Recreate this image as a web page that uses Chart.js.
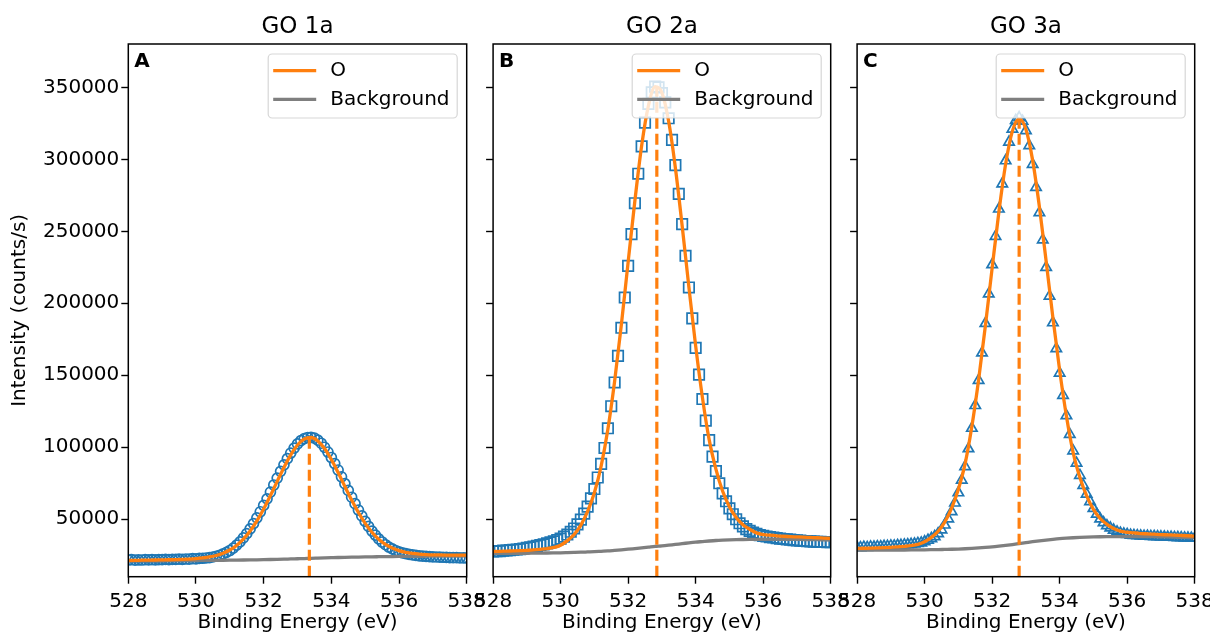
<!DOCTYPE html>
<html>
<head>
<meta charset="utf-8">
<title>O 1s spectra - GO 1a / 2a / 3a</title>
<script src="https://cdn.jsdelivr.net/npm/chart.js@4.4.1/dist/chart.umd.min.js"></script>
<style>
  html, body { margin: 0; padding: 0; background: #fff; width: 1210px; height: 638px; overflow: hidden; }
  canvas { position: absolute; top: 0; }
</style>
</head>
<body>
<canvas id="panelA" width="500" height="638" style="left:0px"></canvas>
<canvas id="panelB" width="400" height="638" style="left:468px"></canvas>
<canvas id="panelC" width="420" height="638" style="left:832px"></canvas>
<script>
// ---- data -------------------------------------------------------------
const panelTitles = ['GO 1a', 'GO 2a', 'GO 3a'];
const panelLetters = ['A', 'B', 'C'];
const energyTicks = [528, 530, 532, 534, 536, 538];
const intensityTicks = [50000, 100000, 150000, 200000, 250000, 300000, 350000];

// measured points (eV)
const energy = [
  528.0, 528.1, 528.2, 528.3, 528.4, 528.5, 528.6, 528.7, 528.8, 528.9,
  529.0, 529.1, 529.2, 529.3, 529.4, 529.5, 529.6, 529.7, 529.8, 529.9,
  530.0, 530.1, 530.2, 530.3, 530.4, 530.5, 530.6, 530.7, 530.8, 530.9,
  531.0, 531.1, 531.2, 531.3, 531.4, 531.5, 531.6, 531.7, 531.8, 531.9,
  532.0, 532.1, 532.2, 532.3, 532.4, 532.5, 532.6, 532.7, 532.8, 532.9,
  533.0, 533.1, 533.2, 533.3, 533.4, 533.5, 533.6, 533.7, 533.8, 533.9,
  534.0, 534.1, 534.2, 534.3, 534.4, 534.5, 534.6, 534.7, 534.8, 534.9,
  535.0, 535.1, 535.2, 535.3, 535.4, 535.5, 535.6, 535.7, 535.8, 535.9,
  536.0, 536.1, 536.2, 536.3, 536.4, 536.5, 536.6, 536.7, 536.8, 536.9,
  537.0, 537.1, 537.2, 537.3, 537.4, 537.5, 537.6, 537.7, 537.8, 537.9, 538.0
];

// fitted envelope / background grid (eV)
const fitEnergy = [
  528.0, 528.2, 528.4, 528.6, 528.8, 529.0, 529.2, 529.4, 529.6, 529.8,
  530.0, 530.2, 530.4, 530.6, 530.8, 531.0, 531.2, 531.4, 531.6, 531.8,
  532.0, 532.2, 532.4, 532.6, 532.8, 533.0, 533.2, 533.4, 533.6, 533.8,
  534.0, 534.2, 534.4, 534.6, 534.8, 535.0, 535.2, 535.4, 535.6, 535.8,
  536.0, 536.2, 536.4, 536.6, 536.8, 537.0, 537.2, 537.4, 537.6, 537.8, 538.0
];

// GO 1a
const go1aCounts = [
  21700, 21900, 21600, 21800, 21700, 21900, 21800, 21900, 21800, 22000,
  21900, 22100, 22000, 22200, 22100, 22300, 22200, 22400, 22300, 22600,
  22500, 22800, 22900, 23100, 23400, 23800, 24300, 25000, 25900, 27000,
  28300, 30000, 32000, 34300, 37000, 40000, 43300, 47000, 51000, 55200,
  59600, 64200, 68900, 73800, 78600, 83300, 87800, 92100, 96000, 99400,
  102300, 104600, 106000, 106800, 106900, 106300, 104900, 102800, 100000, 96700,
  92900, 88700, 84200, 79500, 74700, 70000, 65300, 60800, 56400, 52300,
  48500, 45000, 41800, 39000, 36400, 34200, 32300, 30700, 29400, 28300,
  27400, 26700, 26100, 25600, 25200, 24900, 24600, 24400, 24200, 24100,
  23900, 23800, 23700, 23600, 23500, 23400, 23300, 23300, 23200, 23200, 23100
];
const go1aFit = [
  21400, 21460, 21545, 21615, 21690, 21785, 21880, 22005, 22155, 22365,
  22660, 23115, 23785, 24825, 26365, 28630, 31820, 36145, 41795, 48805,
  57120, 66440, 76305, 86010, 94725, 101580, 105760, 106770, 104420, 99100,
  91490, 82440, 72800, 63360, 54690, 47175, 41000, 36155, 32540, 29955,
  28175, 26995, 26240, 25770, 25490, 25305, 25205, 25145, 25100, 25050, 25020
];
const go1aBackground = [
  21000, 21035, 21075, 21110, 21145, 21180, 21215, 21250, 21290, 21325,
  21360, 21400, 21440, 21480, 21525, 21575, 21630, 21690, 21760, 21840,
  21930, 22030, 22150, 22280, 22420, 22560, 22700, 22870, 23010, 23150,
  23290, 23430, 23550, 23660, 23760, 23850, 23925, 23990, 24050, 24110,
  24160, 24205, 24250, 24290, 24330, 24365, 24400, 24430, 24460, 24480, 24500
];

// GO 2a
const go2aCounts = [
  27600, 27900, 27800, 28200, 28300, 28600, 28800, 29000, 29300, 29700,
  30100, 30500, 31000, 31500, 32000, 32600, 33200, 33900, 34700, 35600,
  36600, 37900, 39400, 41300, 43600, 46400, 49800, 53900, 58800, 64500,
  71000, 79000, 88500, 99500, 113200, 128500, 145000, 163500, 183000, 204000,
  226000, 248000, 269500, 290000, 309000, 325500, 338500, 346500, 350500, 350000,
  346000, 339500, 328500, 313500, 296000, 276000, 255000, 233000, 211000, 189500,
  169000, 150500, 133500, 118500, 105000, 93500, 83500, 75000, 68000, 62500,
  57500, 53500, 50000, 47200, 45000, 43200, 41900, 40700, 39800, 39000,
  38400, 38000, 37600, 37300, 36900, 36600, 36300, 36000, 35800, 35500,
  35300, 35100, 34900, 34800, 34600, 34500, 34400, 34300, 34200, 34100, 34000
];
const go2aFit = [
  27610, 27730, 27880, 28020, 28200, 28420, 28690, 29120, 29620, 30430,
  31980, 35140, 39430, 45980, 55460, 68460, 86950, 112480, 145840, 185280,
  228560, 271250, 309460, 337160, 350460, 346380, 326400, 293990, 253850, 211200,
  170420, 134660, 105300, 84850, 69420, 58740, 51210, 46190, 43070, 40560,
  39400, 38920, 38500, 38190, 37970, 37760, 37550, 37350, 37140, 36950, 36750
];
const go2aBackground = [
  26300, 26320, 26340, 26360, 26380, 26400, 26450, 26500, 26550, 26620,
  26700, 26820, 26950, 27100, 27300, 27500, 27750, 28000, 28400, 28800,
  29200, 29650, 30100, 30600, 31100, 31500, 32000, 32550, 33050, 33600,
  34100, 34500, 34900, 35250, 35500, 35700, 35850, 35950, 36030, 36080,
  36100, 36100, 36100, 36080, 36050, 36000, 35950, 35880, 35800, 35700, 35600
];

// GO 3a
const go3aCounts = [
  30500, 30300, 30600, 30500, 30800, 30700, 31000, 30900, 31200, 31200,
  31500, 31500, 31800, 31900, 32200, 32300, 32600, 32800, 33200, 33600,
  34400, 35400, 36600, 38000, 40000, 42600, 46000, 50300, 55300, 61300,
  68400, 77200, 86600, 99000, 113200, 129000, 146500, 165500, 186000, 206500,
  226800, 246500, 265500, 283000, 299000, 312000, 321000, 327000, 329000, 326500,
  320000, 309500, 296500, 280500, 263000, 244000, 225000, 205000, 186500, 168500,
  151500, 136000, 122000, 109000, 97500, 89000, 80500, 73500, 67500, 62300,
  57500, 53500, 50200, 47600, 45600, 44000, 42500, 41200, 40400, 39800,
  39400, 39000, 38800, 38600, 38400, 38300, 38200, 38100, 38000, 37900,
  37800, 37700, 37600, 37500, 37400, 37300, 37200, 37100, 37000, 36900, 36800
];
const go3aFit = [
  29740, 29850, 29990, 30150, 30320, 30520, 30750, 31170, 31680, 32500,
  34400, 37430, 41640, 48230, 57770, 70900, 88650, 114620, 146930, 184390,
  224440, 263410, 296730, 319570, 328100, 320870, 299280, 267110, 229190, 190040,
  153380, 121720, 96300, 79000, 66215, 56925, 50535, 46475, 43565, 41727,
  40980, 40500, 40090, 39850, 39620, 39390, 39170, 38950, 38740, 38530, 38320
];
const go3aBackground = [
  28500, 28520, 28540, 28560, 28580, 28600, 28630, 28660, 28700, 28750,
  28800, 28870, 28950, 29050, 29150, 29300, 29500, 29750, 30050, 30400,
  30800, 31300, 31850, 32450, 33100, 33750, 34400, 35000, 35550, 36050,
  36500, 36850, 37150, 37400, 37600, 37750, 37850, 37920, 37960, 37980,
  38000, 37990, 37970, 37930, 37880, 37800, 37720, 37620, 37500, 37350, 37200
];

// O 1s peak position (eV) and fitted height, one per sample
const peakCentres = [533.35, 532.85, 532.8];
const peakHeights = [106800, 350500, 328100];

const countsBySample = [go1aCounts, go2aCounts, go3aCounts];
const fitBySample = [go1aFit, go2aFit, go3aFit];
const backgroundBySample = [go1aBackground, go2aBackground, go3aBackground];

// ---- layout / style ---------------------------------------------------
const Y_MIN = 10100, Y_MAX = 380100;
const PLOT_TOP = 44, PLOT_BOTTOM = 576.7, PAGE_H = 638;
const panelBoxes = [
  { id: 'panelA', left: 0,   width: 500, plotLeft: 128.3, plotRight: 466.7 },
  { id: 'panelB', left: 468, width: 400, plotLeft: 492.7, plotRight: 830.7 },
  { id: 'panelC', left: 832, width: 420, plotLeft: 856.7, plotRight: 1194.7 }
];
const markerStyles = [
  { pointStyle: 'circle',   radius: 5 },
  { pointStyle: 'rect',     radius: 7.4 },
  { pointStyle: 'triangle', radius: 6 }
];
const BLUE = '#1f77b4', ORANGE = '#ff7f0e', GREY = '#7f7f7f';
const FONT = "'DejaVu Sans', sans-serif";
const TICK_SIZE = 20;

Chart.defaults.font.family = FONT;
Chart.defaults.color = '#000';

// frame, title, panel letter and legend box drawn over the data
const panelDecor = {
  id: 'panelDecor',
  afterDatasetsDraw(chart, args, opts) {
    const { ctx, chartArea: a } = chart;
    ctx.save();

    ctx.strokeStyle = '#000';
    ctx.lineWidth = 1.5;
    ctx.strokeRect(a.left, a.top, a.right - a.left, a.bottom - a.top);

    ctx.fillStyle = '#000';
    ctx.textAlign = 'center';
    ctx.textBaseline = 'alphabetic';
    ctx.font = '23px ' + FONT;
    ctx.fillText(opts.title, (a.left + a.right) / 2, 33);

    ctx.textAlign = 'left';
    ctx.font = 'bold 20px ' + FONT;
    ctx.fillText(opts.letter, a.left + 6, a.top + 22.5);

    // legend
    const lx = a.right - 198.5, ly = a.top + 10, lw = 189, lh = 64, r = 4;
    ctx.beginPath();
    ctx.moveTo(lx + r, ly);
    ctx.arcTo(lx + lw, ly, lx + lw, ly + lh, r);
    ctx.arcTo(lx + lw, ly + lh, lx, ly + lh, r);
    ctx.arcTo(lx, ly + lh, lx, ly, r);
    ctx.arcTo(lx, ly, lx + lw, ly, r);
    ctx.closePath();
    ctx.fillStyle = 'rgba(255,255,255,0.8)';
    ctx.fill();
    ctx.strokeStyle = 'rgba(204,204,204,0.8)';
    ctx.lineWidth = 1.2;
    ctx.stroke();

    const entries = [['O', ORANGE, 26.7], ['Background', GREY, 55.3]];
    ctx.font = TICK_SIZE + 'px ' + FONT;
    ctx.textBaseline = 'middle';
    entries.forEach(([label, colour, dy]) => {
      ctx.beginPath();
      ctx.moveTo(a.right - 193.5, a.top + dy);
      ctx.lineTo(a.right - 150.5, a.top + dy);
      ctx.strokeStyle = colour;
      ctx.lineWidth = 3.2;
      ctx.stroke();
      ctx.fillStyle = '#000';
      ctx.fillText(label, a.right - 136.5, a.top + dy);
    });
    ctx.restore();
  }
};

function xy(xs, ys) {
  return xs.map((x, i) => ({ x: x, y: ys[i] }));
}

panelBoxes.forEach((box, p) => {
  const marker = markerStyles[p];
  const ctx = document.getElementById(box.id).getContext('2d');

  new Chart(ctx, {
    type: 'line',
    data: {
      datasets: [
        {
          label: 'peak',
          data: [{ x: peakCentres[p], y: Y_MIN }, { x: peakCentres[p], y: peakHeights[p] }],
          borderColor: ORANGE,
          borderWidth: 3.2,
          borderDash: [11, 5],
          pointRadius: 0,
          clip: 0
        },
        {
          label: 'O',
          data: xy(fitEnergy, fitBySample[p]),
          borderColor: ORANGE,
          borderWidth: 3.3,
          pointRadius: 0,
          cubicInterpolationMode: 'monotone',
          clip: 0
        },
        {
          label: 'Background',
          data: xy(fitEnergy, backgroundBySample[p]),
          borderColor: GREY,
          borderWidth: 3.3,
          pointRadius: 0,
          cubicInterpolationMode: 'monotone',
          clip: 0
        },
        {
          label: panelTitles[p],
          data: xy(energy, countsBySample[p]),
          showLine: false,
          pointStyle: marker.pointStyle,
          pointRadius: marker.radius,
          pointBorderWidth: 1.7,
          pointBorderColor: BLUE,
          pointBackgroundColor: 'rgba(0,0,0,0)',
          clip: 0
        }
      ]
    },
    options: {
      responsive: false,
      animation: false,
      devicePixelRatio: 1,
      events: [],
      layout: {
        padding: { left: 0, top: PLOT_TOP, bottom: 0, right: box.left + box.width - box.plotRight }
      },
      plugins: {
        legend: { display: false },
        tooltip: { enabled: false },
        panelDecor: { title: panelTitles[p], letter: panelLetters[p] }
      },
      scales: {
        x: {
          type: 'linear',
          min: 528,
          max: 538,
          afterBuildTicks: s => { s.ticks = energyTicks.map(v => ({ value: v })); },
          afterFit: s => { s.height = PAGE_H - PLOT_BOTTOM; },
          border: { display: false },
          grid: { drawOnChartArea: false, drawTicks: true, tickLength: 7, tickWidth: 1.4, tickColor: '#000' },
          ticks: { autoSkip: false, maxRotation: 0, padding: 6, font: { size: TICK_SIZE }, callback: v => String(v) },
          title: { display: true, text: 'Binding Energy (eV)', font: { size: TICK_SIZE }, padding: { top: 0, bottom: 3 } }
        },
        y: {
          type: 'linear',
          min: Y_MIN,
          max: Y_MAX,
          afterBuildTicks: s => { s.ticks = intensityTicks.map(v => ({ value: v })); },
          afterFit: s => { s.width = box.plotLeft - box.left; },
          border: { display: false },
          grid: { drawOnChartArea: false, drawTicks: true, tickLength: 7, tickWidth: 1.4, tickColor: '#000' },
          ticks: { padding: 2, font: { size: TICK_SIZE }, callback: v => (p === 0 ? String(v) : '') },
          title: { display: p === 0, text: 'Intensity (counts/s)', font: { size: TICK_SIZE }, padding: { top: 8, bottom: 0 } }
        }
      }
    },
    plugins: [panelDecor]
  });
});
</script>
</body>
</html>
